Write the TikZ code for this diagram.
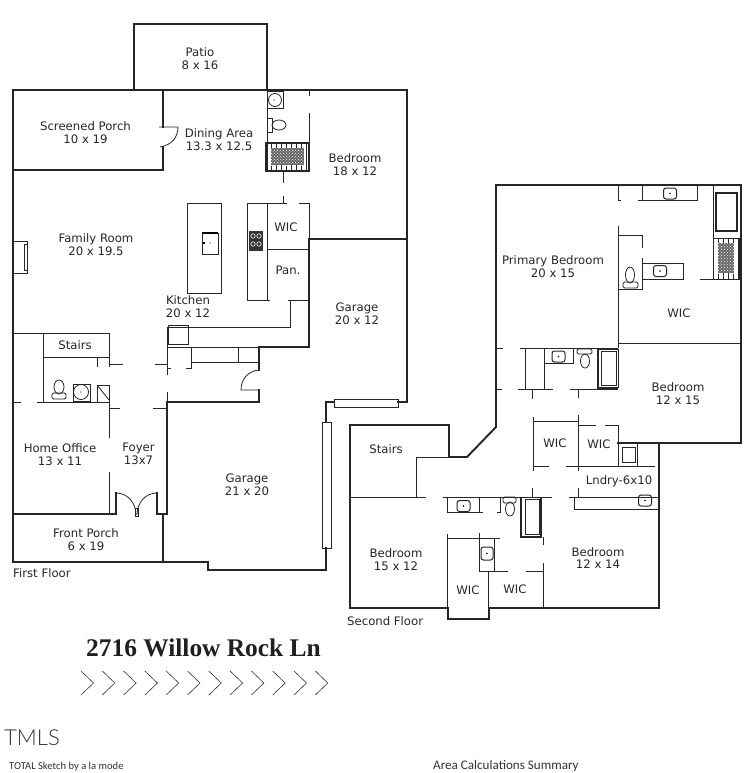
\documentclass[tikz,border=0pt]{standalone}
\usepackage{fontspec}
\setmainfont{DejaVu Sans}
\newfontfamily\titlefont{Liberation Serif}
\newfontfamily\notefont{Carlito}
\newfontfamily\logofont{Lato Light}
\usepackage{tikz}
\usetikzlibrary{patterns}

\tikzset{
	wall/.style={line width=1.9pt,line cap=rect,draw=black!85},
	thinwall/.style={line width=.8pt,draw=black!85},
	fixture/.style={line width=.8pt,draw=black!85},
	tubedge/.style={line width=1.6pt,draw=black!85},
	roomlabel/.style={align=center,text=black!85,font=\fontsize{11.7}{12.8}\selectfont,inner sep=0pt},
}
\newcommand{\basin}[2]{\draw[fixture,line width=1pt,rounded corners=2.5pt,shift={(#1,#2)}] (-6.5,-5.5) rectangle (6.5,5.5); \fill (#1,#2) circle (.8);}
\newcommand{\showertile}[5]{
	\draw[thinwall,xstep=5,ystep=5,shift={(#1,#2)}] (0,0) grid (#3-#1,#4-#2);
	\fill[black!60,shift={(#1,#2)}] (5,5) rectangle (#3-#1-5,#4-#2-6);
	\fill[pattern=crosshatch dots,pattern color=white,shift={(#1,#2)}] (5,5) rectangle (#3-#1-5,#4-#2-6);
	\draw[wall,line width=#5] (#1,#2) rectangle (#3,#4);
}

\begin{document}
\begin{tikzpicture}[x=1pt,y=-1pt]
	\useasboundingbox (0,0) rectangle (746,773);
	% first floor walls
	\draw[wall] (134,90) -- (134,24) -- (267,24) -- (267,90);
	\draw[wall] (13,562) -- (13,90) -- (407,90) -- (407,402) -- (398,402);
	\draw[wall] (334,402) -- (326,402) -- (326,422);
	\draw[wall] (326,548) -- (326,570) -- (208,570) -- (208,562) -- (13,562);
	\draw[wall] (163,90) -- (163,127);
	\draw[wall] (163,147) -- (163,170) -- (13,170);
	\draw[wall] (407,239) -- (309,239) -- (309,347) -- (259,347) -- (259,370);
	\draw[wall] (259,390) -- (259,402) -- (167,402) -- (167,514) -- (157,514) -- (157,493);
	\draw[wall] (116,493) -- (116,514) -- (13,514);
	\draw[wall] (163,514) -- (163,562);
	% windows
	\draw[thinwall] (322,422) rectangle (331,548);
	\draw[thinwall] (334,399) rectangle (398,407);
	% doors
	\draw[thinwall] (159,127) -- (178,127) .. controls (178,137) and (172,145) .. (160,147);
	\draw[thinwall] (259,370) .. controls (249,371) and (241,378) .. (241,390) -- (259,390);
	\draw[thinwall] (116,493) .. controls (127,493) and (136,502) .. (136,515);
	\draw[thinwall] (157,493) .. controls (146,493) and (137,502) .. (137,515);
	\draw[thinwall] (135,508) rectangle (138,516);
	% family room and kitchen
	\draw[thinwall] (13,241) rectangle (27,273);
	\draw[thinwall] (24,244) rectangle (27,270);
	\draw[thinwall] (187,203) rectangle (221,293);
	\draw[fixture] (202,233) rectangle (218,254);
	\draw[line width=1.3pt] (202,233) -- (218,233);
	\fill (203,242) rectangle (205,244);
	\fill (210,243) circle (.6);
	\draw[thinwall] (247,203) rectangle (267,300);
	\fill[black!80] (249,231) rectangle (263,251);
	\foreach \cy in {236,244}{
		\draw[white,line width=.6pt] (253,\cy) circle (2.2);
		\draw[white,line width=.6pt] (259,\cy) circle (2.2);
	}
	\draw[thinwall] (267,300) -- (270,300);
	\draw[thinwall] (288,300) -- (309,300);
	\draw[thinwall] (290,300) -- (290,327) -- (167,327);
	\draw[thinwall] (167,327) -- (167,375);
	\draw[thinwall] (167,392) -- (167,402);
	\draw[thinwall] (168,325) rectangle (188,344);
	\draw[thinwall] (167,347) -- (259,347);
	\draw[thinwall] (191,347) -- (191,368) -- (186,368);
	\draw[thinwall] (167,368) -- (171,368);
	\draw[thinwall] (191,362) -- (259,362);
	\draw[thinwall] (238,347) -- (238,362);
	% upper bath and wic
	\draw[thinwall] (267,90) -- (267,171);
	\draw[thinwall] (267,91) rectangle (283,108);
	\draw[fixture] (275,100) circle (6.5);
	\fill (274,100) circle (.6);
	\draw[fixture] (267,118) rectangle (272,132);
	\draw[fixture] (279,125) ellipse [x radius=7,y radius=5];
	\draw[thinwall] (309,90) -- (309,96);
	\draw[thinwall] (309,113) -- (309,171);
	\showertile{266}{143}{309}{171}{1.2pt}
	\draw[thinwall] (283,171) -- (283,183);
	\draw[thinwall] (283,196) -- (283,203);
	\draw[thinwall] (247,203) -- (287,203);
	\draw[thinwall] (299,203) -- (309,203) -- (309,239);
	\draw[thinwall] (267,249) -- (309,249);
	% stairs, half bath and foyer
	\draw[thinwall] (13,333) -- (109,333) -- (109,367);
	\draw[thinwall] (43,333) -- (43,402);
	\draw[thinwall] (43,357) -- (109,357);
	\draw[thinwall] (97,357) -- (97,367);
	\draw[thinwall] (109,364) -- (123,364);
	\draw[thinwall] (155,364) -- (167,364);
	\draw[thinwall] (109,385) -- (109,438);
	\draw[thinwall] (109,472) -- (109,514);
	\draw[thinwall] (97,385) rectangle (109,402);
	\draw[thinwall] (97,385) -- (109,400);
	\draw[thinwall] (13,402) -- (21,402);
	\draw[thinwall] (37,402) -- (109,402);
	\draw[thinwall] (109,408) -- (120,408);
	\draw[thinwall] (153,408) -- (167,408);
	\draw[fixture,rounded corners=1.5pt] (52,393) rectangle (66,399);
	\draw[fixture] (59,387) ellipse [x radius=5,y radius=7];
	\draw[thinwall] (73,384) rectangle (90,401);
	\draw[fixture] (81,392) circle (7.5);
	\fill (81,392) circle (.6);
	% second floor walls
	\draw[wall] (618,443) -- (741,443) -- (741,185) -- (496,185) -- (496,427) -- (467,457) -- (449,457) -- (449,425) -- (350,425) -- (350,608) -- (448,608) -- (448,619) -- (489,619) -- (489,608) -- (659,608) -- (659,443);
	% primary bath
	\draw[thinwall] (618,185) -- (618,200) -- (621,200);
	\draw[thinwall] (618,226) -- (618,348);
	\draw[thinwall] (642,185) -- (642,200);
	\draw[thinwall] (697,185) -- (697,200) -- (638,200);
	\basin{670}{193.5}
	\draw[thinwall] (713,185) -- (713,238);
	\draw[tubedge] (716,193) rectangle (737,231);
	\showertile{713}{238}{739}{279}{.8pt}
	\draw[thinwall] (700,279) -- (741,279);
	\draw[thinwall] (618,235) -- (642,235) -- (642,248);
	\draw[thinwall] (642,258) -- (642,289) -- (618,289);
	\draw[thinwall] (642,263) rectangle (683,279);
	\basin{660}{271}
	\draw[fixture,rounded corners=1.5pt] (623,282) rectangle (638,288);
	\draw[fixture] (630,275) ellipse [x radius=4.5,y radius=8];
	\draw[thinwall] (618,343) -- (741,343);
	% hall bath above the landing
	\draw[thinwall] (496,348) -- (503,348);
	\draw[thinwall] (520,348) -- (618,348);
	\draw[thinwall] (525,348) -- (525,390);
	\draw[thinwall] (544,348) -- (544,390);
	\draw[thinwall] (544,348) rectangle (573,363);
	\basin{558.5}{356.5}
	\draw[fixture,rounded corners=1.5pt] (577,349) rectangle (592,354);
	\draw[fixture] (585,361) ellipse [x radius=4.5,y radius=7];
	\draw[tubedge] (598,349) -- (598,388) -- (618,388);
	\draw[thinwall] (598,349) -- (618,349) -- (618,388);
	\draw[thinwall] (601,351) rectangle (616,385);
	\draw[thinwall] (496,389) -- (502,389);
	\draw[thinwall] (518,389) -- (553,389);
	\draw[thinwall] (570,389) -- (618,389);
	\draw[thinwall] (532,389) -- (532,399);
	\draw[thinwall] (578,389) -- (578,398);
	% wic pair and laundry
	\draw[thinwall] (533,417) -- (533,471);
	\draw[thinwall] (578,415) -- (578,471);
	\draw[thinwall] (533,421) -- (578,421);
	\draw[thinwall] (578,425) -- (596,425);
	\draw[thinwall] (605,425) -- (618,425) -- (618,466);
	\draw[thinwall] (533,466) -- (549,466);
	\draw[thinwall] (566,466) -- (655,466);
	\draw[thinwall] (637,443) -- (637,466);
	\draw[fixture] (622,447) rectangle (635,462);
	\draw[thinwall] (578,488) -- (578,497);
	\draw[thinwall] (574,497) rectangle (659,509);
	\basin{645}{500.5}
	% lower bath and wics
	\draw[thinwall] (416,457) -- (416,497);
	\draw[thinwall] (416,457) -- (449,457);
	\draw[thinwall] (350,497) -- (426,497);
	\draw[thinwall] (443,497) -- (552,497);
	\draw[thinwall] (569,497) -- (574,497);
	\draw[thinwall] (447,497) -- (447,512);
	\draw[thinwall] (479,497) -- (479,512);
	\draw[thinwall] (447,512) -- (483,512);
	\basin{463.5}{506}
	\draw[thinwall] (497,512) -- (500,512) -- (500,497);
	\draw[fixture,rounded corners=1.5pt] (503,497) rectangle (516,503);
	\draw[fixture] (510,509) ellipse [x radius=4.5,y radius=7];
	\draw[tubedge] (521,498) -- (521,537) -- (542,537);
	\draw[thinwall] (525,499) rectangle (539,534);
	\draw[line width=2.4pt,draw=black!85] (541,498) -- (541,537);
	\draw[thinwall] (532,488) -- (532,497);
	\draw[thinwall] (543,537) -- (543,545);
	\draw[thinwall] (543,563) -- (543,608);
	\draw[thinwall] (447,534) -- (447,608);
	\draw[thinwall] (447,538) -- (500,538);
	\draw[thinwall] (479,533) -- (479,571);
	\draw[thinwall] (494,538) -- (494,571);
	\draw[thinwall] (479,571) -- (508,571);
	\draw[thinwall] (526,571) -- (543,571);
	\draw[thinwall] (488,571) -- (488,608);
	\draw[fixture,line width=1pt,rounded corners=2.5pt] (481,547) rectangle (493,560);
	\fill (487,553.5) circle (.8);
	% labels
	\node[roomlabel] (patio) at (200,59) {Patio\\8 x 16};
	\node[roomlabel] (screenedporch) at (85.5,133) {Screened Porch\\10 x 19};
	\node[roomlabel] (diningarea) at (219,140) {Dining Area\\13.3 x 12.5};
	\node[roomlabel] (upperbedroom) at (355,164.5) {Bedroom\\18 x 12};
	\node[roomlabel] (familyroom) at (96,244.5) {Family Room\\20 x 19.5};
	\node[roomlabel] (wicdown) at (286,227) {WIC};
	\node[roomlabel] (pantry) at (288,270) {Pan.};
	\node[roomlabel] (kitchen) at (188,307) {Kitchen\\20 x 12};
	\node[roomlabel] (garagetop) at (357,314) {Garage\\20 x 12};
	\node[roomlabel] (stairsdown) at (75,345) {Stairs};
	\node[roomlabel] (homeoffice) at (60,454.5) {Home Office\\13 x 11};
	\node[roomlabel] (foyer) at (138.5,454) {Foyer\\13x7};
	\node[roomlabel] (garagemain) at (247,485) {Garage\\21 x 20};
	\node[roomlabel] (frontporch) at (86,539.5) {Front Porch\\6 x 19};
	\node[roomlabel,anchor=west] (firstfloor) at (13,573) {First Floor};
	\node[roomlabel] (stairsup) at (386,449) {Stairs};
	\node[roomlabel] (bedroomwest) at (396,560) {Bedroom\\15 x 12};
	\node[roomlabel] (primarybedroom) at (553,267) {Primary Bedroom\\20 x 15};
	\node[roomlabel] (wicprimary) at (679,313) {WIC};
	\node[roomlabel] (bedroomeast) at (678,394) {Bedroom\\12 x 15};
	\node[roomlabel] (wicleft) at (555,443) {WIC};
	\node[roomlabel] (wicright) at (599,444) {WIC};
	\node[roomlabel] (laundry) at (619,481) {Lndry-6x10};
	\node[roomlabel] (bedroomsouth) at (598,558) {Bedroom\\12 x 14};
	\node[roomlabel] (wiclower) at (468,590) {WIC};
	\node[roomlabel] (wicsouth) at (515,589) {WIC};
	\node[roomlabel,anchor=west] (secondfloor) at (347,621) {Second Floor};
	% title block
	\node[inner sep=0pt,text=black!88] (address) at (203.5,648) {\titlefont\bfseries\fontsize{25.4}{28}\selectfont 2716 Willow Rock Ln};
	\foreach \k in {0,...,11}{
		\draw[line width=.6pt,black!80] (81+21.3*\k,671) -- (93.5+21.3*\k,683) -- (81+21.3*\k,695);
	}
	\node[anchor=west,inner sep=0pt,text=black!80] (mlslogo) at (4,738) {\logofont\fontsize{22}{24}\selectfont TMLS};
	\node[anchor=west,inner sep=0pt,text=black!80] (sketchnote) at (9,767) {\notefont\fontsize{10.6}{12}\selectfont TOTAL Sketch by a la mode};
	\node[anchor=west,inner sep=0pt,text=black!80] (areasummary) at (433,766) {\notefont\fontsize{13.1}{14}\selectfont Area Calculations Summary};
\end{tikzpicture}
\end{document}
